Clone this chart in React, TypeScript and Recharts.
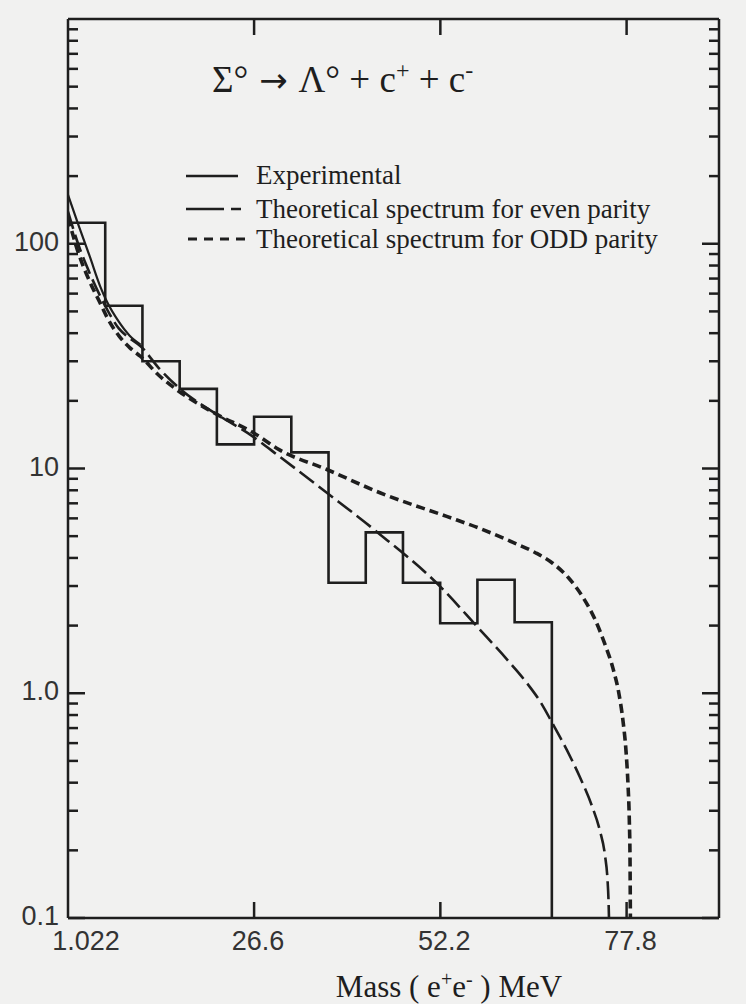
import React from 'react';
import { LineChart, Line, XAxis, YAxis } from 'recharts';

// histogram bins (MeV edges) and counts
const BIN_EDGES = [1.022, 6.138, 11.253, 16.369, 21.484, 26.6, 31.716, 36.831, 41.947, 47.062, 52.178, 57.294, 62.409, 67.525];
const BIN_COUNTS = [124, 53, 30, 22.6, 12.8, 17, 11.8, 3.1, 5.2, 3.1, 2.05, 3.2, 2.07];

// smooth experimental curve near threshold
const FIT_X = [1.022, 2.5, 4.0, 5.5, 6.4, 8.0, 9.5, 11.0];
const FIT_Y = [165, 120, 88, 64, 55, 45, 39, 35.6];

// theoretical spectrum, even parity
const EVEN_X = [1.022, 2.5, 4.0, 5.5, 6.4, 8.0, 9.5, 11.0, 13.5, 16.5, 21.5, 26.4, 30.1, 36.6, 43.4, 52.15, 57.19, 62.18, 64.11, 65.9, 67.68, 69.6, 71.39, 73.04, 74.14, 74.83, 75.17, 75.31, 75.38];
const EVEN_Y = [139, 98, 74, 58, 51, 42, 38, 35, 28, 22.5, 17.4, 13.9, 11.3, 7.8, 5.25, 2.99, 1.99, 1.318, 1.108, 0.921, 0.728, 0.558, 0.423, 0.315, 0.244, 0.19, 0.149, 0.121, 0.1];

// theoretical spectrum, odd parity
const ODD_X = [1.022, 2.5, 4.0, 5.5, 6.4, 8.0, 9.5, 11.0, 13.5, 15.9, 21.5, 26.4, 30.1, 36.6, 43.9, 53.07, 57.65, 62.18, 65.21, 67.68, 69.75, 71.81, 73.46, 74.83, 75.93, 76.76, 77.31, 77.72, 77.99, 78.17, 78.27, 78.32];
const ODD_Y = [131, 90, 68, 54, 47, 39, 34.5, 31.5, 26, 22.5, 17.4, 14.5, 12.1, 9.9, 7.8, 6.12, 5.41, 4.69, 4.23, 3.78, 3.28, 2.67, 2.13, 1.65, 1.29, 0.99, 0.751, 0.552, 0.394, 0.275, 0.183, 0.1];

const X_TICKS = [1.022, 26.6, 52.2, 77.8];
const X_LABELS = ['1.022', '26.6', '52.2', '77.8'];
const Y_MAJOR = [0.1, 1, 10, 100];
const Y_LABELS = ['0.1', '1.0', '10', '100'];
const Y_TICKS = [
  0.1, 0.2, 0.3, 0.4, 0.5, 0.6, 0.7, 0.8, 0.9,
  1, 2, 3, 4, 5, 6, 7, 8, 9,
  10, 20, 30, 40, 50, 60, 70, 80, 90,
  100, 200, 300, 400, 500, 600, 700, 800, 900,
];

const histData = [
  ...BIN_COUNTS.map((c, i) => ({ x: BIN_EDGES[i], y: c })),
  { x: BIN_EDGES[BIN_EDGES.length - 1], y: BIN_COUNTS[BIN_COUNTS.length - 1] },
  { x: BIN_EDGES[BIN_EDGES.length - 1], y: 0.1 },
];
const fitData = FIT_X.map((x, i) => ({ x, y: FIT_Y[i] }));
const evenData = EVEN_X.map((x, i) => ({ x, y: EVEN_Y[i] }));
const oddData = ODD_X.map((x, i) => ({ x, y: ODD_Y[i] }));

const INK = '#1e1e1e';
const TICK_FONT = '"Liberation Sans", Arial, sans-serif';
const SERIF = '"Liberation Serif", "Times New Roman", serif';
const PLOT_TOP = 19;

const isMajor = (v: number) => Y_MAJOR.some(m => Math.abs(m - v) < 1e-9);

const LeftTick = (props: any) => {
  const { x, y, payload } = props;
  const v = payload.value;
  const major = isMajor(v);
  const idx = Y_MAJOR.findIndex(m => Math.abs(m - v) < 1e-9);
  return (
    <g>
      <line x1={x} x2={x + (major ? 17 : 10)} y1={y} y2={y} stroke={INK} strokeWidth={2.5} />
      {major && (
        <text x={x - 9} y={y + 7} textAnchor="end" fontFamily={TICK_FONT} fontSize={27} fill="#333">
          {Y_LABELS[idx]}
        </text>
      )}
    </g>
  );
};

const RightTick = (props: any) => {
  const { x, y, payload } = props;
  const major = isMajor(payload.value);
  return <line x1={x} x2={x - (major ? 17 : 10)} y1={y} y2={y} stroke={INK} strokeWidth={2.5} />;
};

// bottom ticks also mark the same positions on the top frame (ticks point inward)
const BottomTick = (props: any) => {
  const { x, y, index } = props;
  return (
    <g>
      {index > 0 && <line x1={x} x2={x} y1={y} y2={y - 16} stroke={INK} strokeWidth={2.5} />}
      {index > 0 && <line x1={x} x2={x} y1={PLOT_TOP} y2={PLOT_TOP + 16} stroke={INK} strokeWidth={2.5} />}
      <text x={x + (index === 0 ? 18 : 4)} y={y + 32} textAnchor="middle" fontFamily={TICK_FONT} fontSize={27} fill="#333">
        {X_LABELS[index]}
      </text>
    </g>
  );
};

export default function App() {
  return (
    <div style={{ position: 'relative', width: 746, height: 1004, background: '#f1f1f0', overflow: 'hidden' }}>
      <style>{'body{margin:0;overflow:hidden}'}</style>
      <LineChart
        width={746}
        height={1004}
        margin={{ top: 18, right: 26, left: 8, bottom: 46 }}
      >
        <XAxis
          xAxisId="b"
          dataKey="x"
          type="number"
          domain={[1.022, 90.5]}
          allowDataOverflow
          ticks={X_TICKS}
          interval={0}
          height={40}
          tickSize={0}
          tickMargin={0}
          tickLine={false}
          tick={BottomTick}
          axisLine={{ stroke: INK, strokeWidth: 2.5 }}
        />
        <XAxis
          xAxisId="t"
          orientation="top"
          dataKey="x"
          type="number"
          domain={[1.022, 90.5]}
          allowDataOverflow
          height={1}
          tick={false}
          tickLine={false}
          axisLine={{ stroke: INK, strokeWidth: 2.5 }}
        />
        <YAxis
          yAxisId="l"
          type="number"
          scale="log"
          domain={[0.1, 1000]}
          allowDataOverflow
          ticks={Y_TICKS}
          interval={0}
          width={60}
          tickSize={0}
          tickMargin={0}
          tickLine={false}
          tick={LeftTick}
          axisLine={{ stroke: INK, strokeWidth: 2.5 }}
        />
        <YAxis
          yAxisId="r"
          orientation="right"
          type="number"
          scale="log"
          domain={[0.1, 1000]}
          allowDataOverflow
          ticks={Y_TICKS}
          interval={0}
          width={1}
          tickSize={0}
          tickMargin={0}
          tickLine={false}
          tick={RightTick}
          axisLine={{ stroke: INK, strokeWidth: 2.5 }}
        />
        {/* invisible series so the top and right frame axes are drawn */}
        <Line
          xAxisId="t"
          yAxisId="r"
          data={histData}
          dataKey="y"
          stroke="none"
          dot={false}
          activeDot={false}
          legendType="none"
          isAnimationActive={false}
        />
        <Line
          xAxisId="b"
          yAxisId="l"
          data={histData}
          dataKey="y"
          type="stepAfter"
          stroke={INK}
          strokeWidth={2.6}
          dot={false}
          isAnimationActive={false}
        />
        <Line
          xAxisId="b"
          yAxisId="l"
          data={fitData}
          dataKey="y"
          type="monotone"
          stroke={INK}
          strokeWidth={2.2}
          dot={false}
          isAnimationActive={false}
        />
        <Line
          xAxisId="b"
          yAxisId="l"
          data={evenData}
          dataKey="y"
          type="monotone"
          stroke={INK}
          strokeWidth={2.6}
          strokeDasharray="18 6"
          dot={false}
          isAnimationActive={false}
        />
        <Line
          xAxisId="b"
          yAxisId="l"
          data={oddData}
          dataKey="y"
          type="monotone"
          stroke={INK}
          strokeWidth={3.6}
          strokeDasharray="9 5"
          dot={false}
          isAnimationActive={false}
        />
      </LineChart>

      <svg width={746} height={1004} style={{ position: 'absolute', left: 0, top: 0, pointerEvents: 'none' }}>
        {/* title */}
        <text x={212} y={92} fontFamily={SERIF} fontSize={37} fill={INK}>
          Σ°<tspan fontFamily='"DejaVu Sans", sans-serif' fontSize={34}> → </tspan>
          <tspan>Λ° + c</tspan>
          <tspan dy={-14} fontSize={24}>+</tspan>
          <tspan dy={14}> + c</tspan>
          <tspan dy={-14} fontSize={24}>-</tspan>
        </text>

        {/* legend */}
        <line x1={186} x2={238} y1={176} y2={176} stroke={INK} strokeWidth={2.5} />
        <line x1={186} x2={224} y1={209} y2={209} stroke={INK} strokeWidth={2.5} />
        <line x1={231} x2={241} y1={209} y2={209} stroke={INK} strokeWidth={2.5} />
        <line x1={188} x2={246} y1={239} y2={239} stroke={INK} strokeWidth={3} strokeDasharray="9 7" />
        <g fontFamily={SERIF} fontSize={27} fill={INK}>
          <text x={256} y={184}>Experimental</text>
          <text x={256} y={218}>Theoretical spectrum for even parity</text>
          <text x={256} y={248}>Theoretical spectrum for ODD parity</text>
        </g>

        {/* x axis title */}
        <text x={449} y={997} textAnchor="middle" fontFamily={SERIF} fontSize={31} fill={INK}>
          Mass ( e<tspan dy={-11} fontSize={20}>+</tspan>
          <tspan dy={11}>e</tspan>
          <tspan dy={-11} fontSize={20}>-</tspan>
          <tspan dy={11}> ) MeV</tspan>
        </text>
      </svg>
    </div>
  );
}
